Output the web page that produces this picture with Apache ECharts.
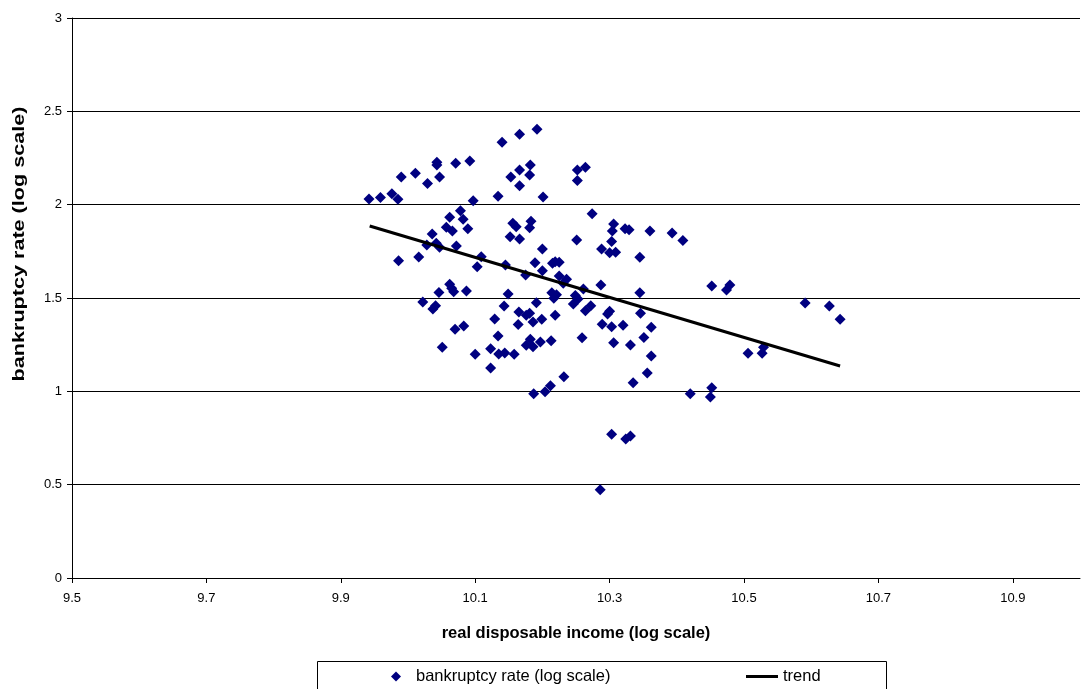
<!DOCTYPE html>
<html>
<head>
<meta charset="utf-8">
<script src="https://cdn.jsdelivr.net/npm/echarts@6/dist/echarts.min.js"></script>
<style>
  html, body { margin: 0; padding: 0; background: #fff; }
  #chart { width: 1081px; height: 689px; }
</style>
</head>
<body>
<div id="chart"></div>
<script>
// real disposable income (log) per point
var incomeLog = [
  9.942, 9.959, 9.976, 9.985, 9.990, 10.011, 10.029, 10.043, 10.043, 10.047,
  10.071, 10.092, 10.097, 10.140, 10.166, 10.153, 10.134, 10.166, 10.166, 10.078,
  10.062, 10.082, 10.057, 10.066, 10.089, 10.036, 10.156, 10.161, 10.152, 10.166,
  10.192, 10.182, 10.181, 10.201, 10.252, 10.264, 10.252, 10.274, 10.306, 10.304,
  10.323, 10.329, 10.360, 10.393, 10.251, 10.303, 10.183, 10.181, 10.409, 9.986,
  10.016, 10.028, 10.042, 10.047, 10.072, 10.109, 10.103, 10.145, 10.062, 10.065,
  10.068, 10.046, 10.087, 10.149, 10.022, 10.041, 10.037, 10.143, 10.165, 10.129,
  10.164, 10.070, 10.083, 10.134, 10.051, 10.123, 10.100, 10.135, 10.144, 10.158,
  10.123, 10.200, 10.288, 10.300, 10.309, 10.345, 10.189, 10.215, 10.219, 10.225,
  10.200, 10.175, 10.225, 10.236, 10.231, 10.287, 10.261, 10.214, 10.221, 10.217,
  10.249, 10.253, 10.246, 10.345, 10.191, 10.272, 10.264, 10.300, 10.297, 10.346,
  10.176, 10.181, 10.219, 10.199, 10.186, 10.289, 10.303, 10.320, 10.362, 10.259,
  10.351, 10.182, 10.176, 10.186, 10.197, 10.213, 10.306, 10.331, 10.362, 10.356,
  10.452, 10.474, 10.479, 10.591, 10.627, 10.643, 10.506, 10.527, 10.529, 10.187,
  10.204, 10.212, 10.232, 10.335, 10.303, 10.324, 10.331, 10.286, 10.420, 10.452,
  10.450
];
// bankruptcy rate (log) per point
var bankruptcyLog = [
  2.030, 2.039, 2.059, 2.029, 2.148, 2.168, 2.114, 2.227, 2.212, 2.148,
  2.222, 2.234, 2.021, 2.334, 2.377, 2.148, 2.045, 2.102, 2.186, 1.968,
  1.932, 1.922, 1.879, 1.859, 1.871, 1.843, 1.900, 1.882, 1.828, 1.816,
  2.404, 2.212, 2.159, 2.041, 2.186, 2.200, 2.130, 1.952, 1.896, 1.859,
  1.871, 1.866, 1.859, 1.848, 1.811, 1.803, 1.911, 1.877, 1.808, 1.700,
  1.720, 1.784, 1.793, 1.772, 1.779, 1.721, 1.668, 1.677, 1.573, 1.552,
  1.534, 1.530, 1.537, 1.521, 1.479, 1.459, 1.441, 1.457, 1.425, 1.387,
  1.358, 1.332, 1.350, 1.296, 1.236, 1.228, 1.198, 1.200, 1.205, 1.198,
  1.125, 1.762, 1.762, 1.743, 1.745, 1.718, 1.689, 1.686, 1.694, 1.691,
  1.646, 1.623, 1.618, 1.600, 1.579, 1.570, 1.548, 1.528, 1.518, 1.498,
  1.514, 1.495, 1.468, 1.528, 1.475, 1.459, 1.432, 1.429, 1.414, 1.418,
  1.407, 1.418, 1.407, 1.386, 1.371, 1.359, 1.346, 1.354, 1.343, 1.287,
  1.289, 1.279, 1.247, 1.239, 1.264, 1.271, 1.260, 1.248, 1.189, 1.098,
  1.564, 1.543, 1.570, 1.473, 1.457, 1.386, 1.204, 1.204, 1.236, 0.987,
  0.998, 1.030, 1.078, 1.046, 0.770, 0.745, 0.761, 0.473, 0.987, 1.019,
  0.970
];
// trend line end points
var trendX = [9.943, 10.643];
var trendY = [1.886, 1.136];

var points = incomeLog.map(function (x, i) { return [x, bankruptcyLog[i]]; });
var trend = trendX.map(function (x, i) { return [x, trendY[i]]; });

var font = 'Liberation Sans, Arial, sans-serif';
var myChart = echarts.init(document.getElementById('chart'));
var option = {
    animation: false,
    backgroundColor: '#fff',
    grid: { left: 72, right: 1, top: 18, bottom: 111 },
    xAxis: {
        type: 'value',
        min: 9.5,
        max: 11.0,
        interval: 0.2,
        name: 'real disposable income (log scale)',
        nameLocation: 'middle',
        nameGap: 47,
        nameTextStyle: { fontFamily: font, fontSize: 16.5, fontWeight: 'bold', color: '#000' },
        axisLine: { lineStyle: { color: '#000', width: 1 } },
        axisTick: { show: true, length: 5, lineStyle: { color: '#000' } },
        axisLabel: { fontFamily: font, fontSize: 13, color: '#000', margin: 14, showMaxLabel: false },
        splitLine: { show: false }
    },
    yAxis: {
        type: 'value',
        min: 0,
        max: 3,
        interval: 0.5,
        axisLine: { show: true, lineStyle: { color: '#000', width: 1 } },
        axisTick: { show: true, length: 5, lineStyle: { color: '#000' } },
        axisLabel: { fontFamily: font, fontSize: 13, color: '#000', margin: 10 },
        splitLine: { show: true, lineStyle: { color: '#000', width: 1 } }
    },
    legend: [
        {
            data: ['bankruptcy rate (log scale)'],
            left: 391, top: 668, padding: 0,
            itemWidth: 30, itemHeight: 10,
            icon: 'path://M5,0L10,5L5,10L0,5Z',
            textStyle: { fontFamily: font, fontSize: 16.5, color: '#000' }
        },
        {
            data: ['trend'],
            left: 746, top: 668, padding: 0,
            itemWidth: 32, itemHeight: 3,
            icon: 'rect',
            textStyle: { fontFamily: font, fontSize: 16.5, color: '#000' }
        }
    ],
    graphic: [
        {
            type: 'rect',
            left: 315, top: 659,
            shape: { width: 569, height: 40 },
            style: { fill: 'none', stroke: '#000', lineWidth: 1 },
            silent: true
        },
        {
            // y axis title, stretched along its length like the source picture
            type: 'text',
            x: 20, y: 244,
            rotation: Math.PI / 2,
            scaleX: 1.35,
            style: {
                text: 'bankruptcy rate (log scale)',
                font: 'bold 16px Liberation Sans, Arial, sans-serif',
                fill: '#000',
                align: 'center',
                verticalAlign: 'middle'
            },
            silent: true
        }
    ],
    series: [
        {
            name: 'bankruptcy rate (log scale)',
            type: 'scatter',
            symbol: 'diamond',
            symbolSize: 11,
            itemStyle: { color: '#000080', opacity: 1 },
            data: points
        },
        {
            name: 'trend',
            type: 'line',
            symbol: 'none',
            lineStyle: { color: '#000', width: 3 },
            itemStyle: { color: '#000' },
            data: trend,
            z: 3
        }
    ]
};
myChart.setOption(option);
</script>
</body>
</html>
